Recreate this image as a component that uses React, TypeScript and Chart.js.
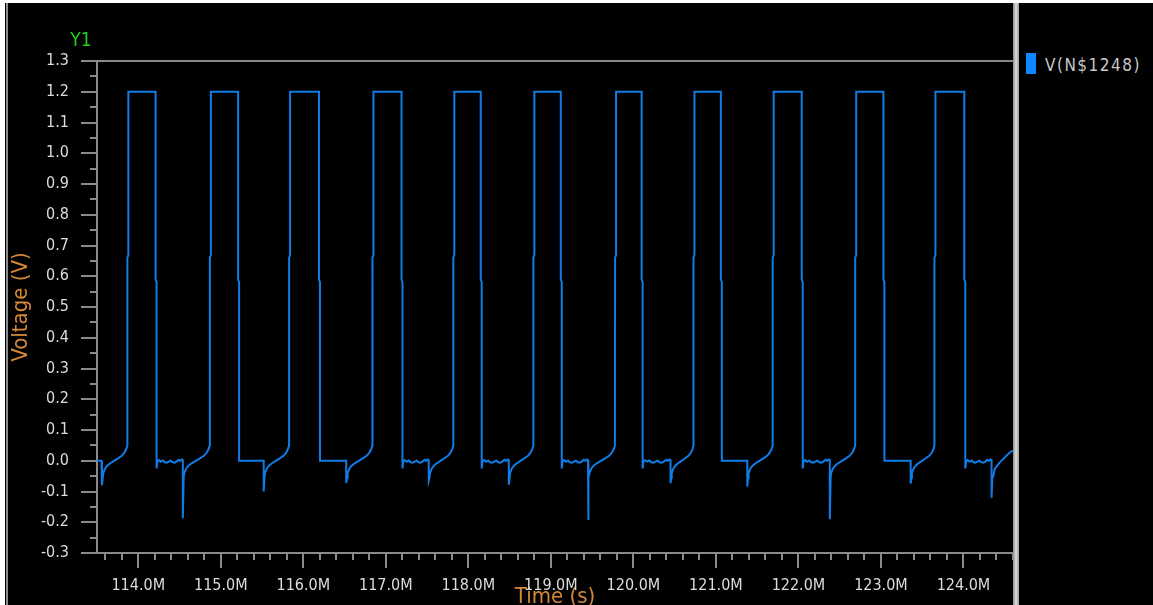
import { useEffect, useRef } from "react";
import { Chart, registerables } from "chart.js";

Chart.register(...registerables);

const FONT = "'DejaVu Sans Condensed', 'DejaVu Sans', sans-serif";
const LINE_COLOR = "#107ce6";
const AXIS_COLOR = "#8a8a8a";
const TICK_TEXT = "#dcdcdc";
const TITLE_COLOR = "#d4883a";
const Y1_COLOR = "#1fd01f";

// Axis ranges (time in M s, voltage in V)
const timeMin = 113.5;
const timeMax = 124.6;
const voltMin = -0.3;
const voltMax = 1.3;

// Pulse edges
const riseTimes = [113.88, 114.88, 115.84, 116.85, 117.83, 118.8, 119.79, 120.74, 121.7, 122.7, 123.66];
const fallTimes = [114.21, 115.21, 116.19, 117.19, 118.15, 119.12, 120.1, 121.06, 122.04, 123.03, 124.01];
const highLevel = 1.2;
const riseShoulder = 0.66;
const fallShoulder = 0.59;

// Negative undershoot spikes (one before every rising edge, plus one after the last pulse)
const spikeTimes = [113.56, 114.54, 115.52, 116.52, 117.52, 118.49, 119.45, 120.45, 121.38, 122.38, 123.36, 124.34];
const spikeDepths = [-0.08, -0.187, -0.1, -0.072, -0.065, -0.078, -0.193, -0.073, -0.084, -0.19, -0.074, -0.12];

// Low phase after each falling edge: true = ringing, false = flat at 0 V
const ringingAfterFall = [true, false, false, true, true, true, true, false, true, false, true];
const fallUndershoot = -0.025;

// Recovery after a spike, as fraction of the spike-to-rise interval
const recoveryFrac = [0.05, 0.12, 0.2, 0.3, 0.43, 0.61, 0.75, 0.85, 0.92, 0.96];
const recoveryVolts = [-0.04, -0.025, -0.016, -0.009, -0.002, 0.008, 0.016, 0.026, 0.038, 0.05];

// Ringing during the low phase, as fraction of the fall-to-spike interval
const rippleFrac = [0.03, 0.09, 0.16, 0.24, 0.31, 0.39, 0.46, 0.54, 0.61, 0.69, 0.77, 0.84, 0.9, 0.96];
const rippleVolts = [-0.002, 0.002, -0.003, 0.001, -0.005, -0.006, -0.003, 0.0, -0.005, -0.006, -0.002, 0.003, 0.0, 0.004];

// Start and end of the trace
const leadIn: [number, number][] = [[113.5, 0.003], [113.515, 0.0], [113.555, 0.0]];
const tail: [number, number][] = [[124.36, -0.05], [124.38, -0.026], [124.44, -0.005], [124.5, 0.011], [124.56, 0.027], [124.6, 0.033]];

type Pt = { x: number; y: number };

function buildTrace(): Pt[] {
  const pts: Pt[] = [];
  const add = (x: number, y: number) => pts.push({ x, y });
  leadIn.forEach(([x, y]) => add(x, y));
  spikeTimes.forEach((ts, i) => {
    add(ts, spikeDepths[i]);
    add(ts + 0.01, -0.055);
    const tr = riseTimes[i];
    if (tr === undefined) {
      tail.forEach(([x, y]) => add(x, y));
      return;
    }
    const span = tr - ts;
    recoveryFrac.forEach((f, k) => add(ts + f * span, recoveryVolts[k]));
    add(tr - 0.012, riseShoulder);
    add(tr, riseShoulder + 0.01);
    add(tr, highLevel);
    const tf = fallTimes[i];
    add(tf, highLevel);
    add(tf, fallShoulder);
    add(tf + 0.012, fallShoulder - 0.01);
    const next = spikeTimes[i + 1];
    const lowStart = tf + 0.012;
    if (ringingAfterFall[i]) {
      add(lowStart, fallUndershoot);
      const lowSpan = next - lowStart;
      rippleFrac.forEach((f, k) => add(lowStart + f * lowSpan, rippleVolts[k]));
      add(next, 0.002);
    } else {
      add(lowStart, 0);
      add(next, 0);
    }
  });
  return pts;
}

const axisFrame = {
  id: "axisFrame",
  beforeDatasetsDraw(chart: any) {
    const { ctx, chartArea, scales } = chart;
    const { left, right, top, bottom } = chartArea;
    const x = scales.x;
    const y = scales.y;
    ctx.save();
    ctx.strokeStyle = AXIS_COLOR;
    ctx.lineWidth = 2;
    ctx.beginPath();
    ctx.moveTo(left - 16, top);
    ctx.lineTo(right, top);
    ctx.moveTo(left, top);
    ctx.lineTo(left, bottom);
    ctx.moveTo(left - 16, bottom);
    ctx.lineTo(right, bottom);
    for (let k = Math.round(voltMin * 20); k <= Math.round(voltMax * 20); k++) {
      const py = Math.round(y.getPixelForValue(k / 20));
      const len = k % 2 === 0 ? 16 : 7;
      ctx.moveTo(left - len, py);
      ctx.lineTo(left, py);
    }
    for (let k = Math.ceil(timeMin * 5 - 1e-9); k <= Math.floor(timeMax * 5 + 1e-9); k++) {
      const px = Math.round(x.getPixelForValue(k / 5));
      const len = k % 5 === 0 ? 15 : 7;
      ctx.moveTo(px, bottom);
      ctx.lineTo(px, bottom + len);
    }
    ctx.stroke();
    ctx.restore();
  },
  afterDraw(chart: any) {
    const { ctx } = chart;
    ctx.save();
    ctx.fillStyle = Y1_COLOR;
    ctx.font = `19px ${FONT}`;
    ctx.textAlign = "center";
    ctx.textBaseline = "middle";
    ctx.fillText("Y1", 72, 38);
    ctx.restore();
  },
};

export default function App() {
  const canvasRef = useRef<HTMLCanvasElement | null>(null);

  useEffect(() => {
    document.body.style.margin = "0";
    const canvas = canvasRef.current;
    if (!canvas) return;
    const chart = new Chart(canvas, {
      type: "line",
      data: {
        datasets: [
          {
            label: "V(N$1248)",
            data: buildTrace(),
            borderColor: LINE_COLOR,
            borderWidth: 2,
            pointRadius: 0,
            tension: 0,
            fill: false,
          },
        ],
      },
      options: {
        animation: false,
        responsive: true,
        maintainAspectRatio: false,
        events: [],
        layout: { padding: { top: 58, left: 0, right: 0, bottom: 0 } },
        plugins: { legend: { display: false }, tooltip: { enabled: false } },
        scales: {
          x: {
            type: "linear",
            min: timeMin,
            max: timeMax,
            grid: { display: false },
            border: { display: false },
            ticks: {
              stepSize: 1,
              includeBounds: false,
              autoSkip: false,
              maxRotation: 0,
              color: TICK_TEXT,
              font: { family: FONT, size: 16 },
              padding: 15,
              callback: (v: any) => `${Number(v).toFixed(1)}M`,
            },
            title: {
              display: true,
              text: "Time (s)",
              color: TITLE_COLOR,
              font: { family: FONT, size: 22, lineHeight: 0.72 },
              padding: 0,
            },
            afterFit: (s: any) => {
              s.height = 52;
            },
          },
          y: {
            type: "linear",
            min: voltMin,
            max: voltMax,
            grid: { display: false },
            border: { display: false },
            ticks: {
              stepSize: 0.1,
              autoSkip: false,
              color: TICK_TEXT,
              font: { family: FONT, size: 16 },
              padding: 20,
              callback: (v: any) => {
                const n = Math.abs(Number(v)) < 1e-9 ? 0 : Number(v);
                return n.toFixed(1);
              },
            },
            title: {
              display: true,
              text: "Voltage (V)",
              color: TITLE_COLOR,
              font: { family: FONT, size: 22, lineHeight: 1 },
              padding: { top: 1, bottom: 0 },
            },
            afterFit: (s: any) => {
              s.width = 88;
            },
          },
        },
      },
      plugins: [axisFrame],
    });
    return () => chart.destroy();
  }, []);

  return (
    <div style={{ position: "fixed", left: 0, top: 0, width: 1153, height: 605, background: "#ffffff", overflow: "hidden" }}>
      <div style={{ position: "absolute", left: 5, top: 3, width: 1148, height: 602, background: "#000000" }} />
      <div style={{ position: "absolute", left: 6, top: 3, width: 2, height: 602, background: "#8e8e8e" }} />
      <div style={{ position: "absolute", left: 9, top: 3, width: 1004, height: 602 }}>
        <canvas ref={canvasRef} />
      </div>
      <div
        style={{
          position: "absolute",
          left: 1013,
          top: 3,
          width: 6,
          height: 602,
          background: "linear-gradient(to right, #8a8a8a, #dcdcdc 50%, #9a9a9a)",
        }}
      />
      <div style={{ position: "absolute", left: 1026, top: 53, width: 10, height: 21, background: "#0f87ff" }} />
      <div
        style={{
          position: "absolute",
          left: 1045,
          top: 55,
          fontFamily: FONT,
          fontSize: 17,
          lineHeight: "20px",
          letterSpacing: "1.5px",
          color: "#c8c8c8",
          whiteSpace: "nowrap",
        }}
      >
        V(N$1248)
      </div>
    </div>
  );
}
